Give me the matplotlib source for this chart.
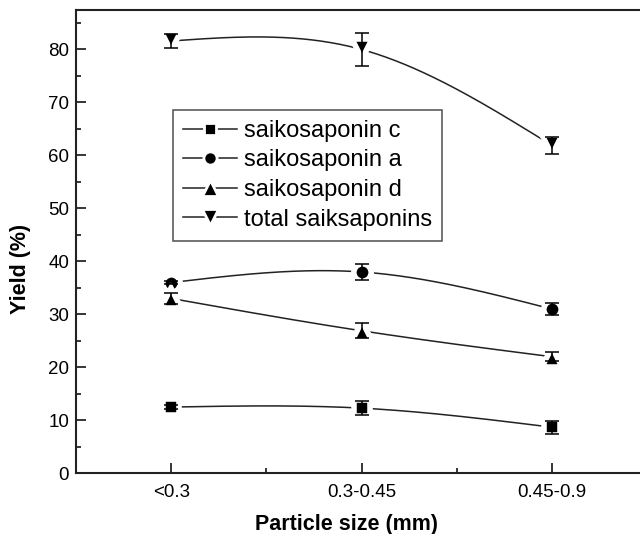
import numpy as np
import matplotlib
matplotlib.use("Agg")
import matplotlib.pyplot as plt

plt.rcParams["font.family"] = ["Liberation Sans", "DejaVu Sans"]

sizes = ["<0.3", "0.3-0.45", "0.45-0.9"]
labels = ["saikosaponin c", "saikosaponin a", "saikosaponin d", "total saiksaponins"]
markers = ["s", "o", "^", "v"]
msizes = [11.5, 12.5, 14, 14]

yield_c = [12.5, 12.3, 8.7]
yield_a = [36.0, 38.0, 31.0]
yield_d = [33.0, 26.9, 22.0]
yield_total = [81.6, 80.0, 61.9]

err_c = [0.3, 1.3, 1.2]
err_a = [0.3, 1.5, 1.2]
err_d = [1.0, 1.4, 0.8]
err_total = [1.4, 3.1, 1.6]


def natural_spline(x, y, n=200):
    # natural cubic spline through the points (Origin style "spline" line)
    x = np.asarray(x, float)
    y = np.asarray(y, float)
    k = len(x)
    h = np.diff(x)
    A = np.zeros((k, k))
    r = np.zeros(k)
    A[0, 0] = A[-1, -1] = 1
    for i in range(1, k - 1):
        A[i, i - 1] = h[i - 1]
        A[i, i] = 2 * (h[i - 1] + h[i])
        A[i, i + 1] = h[i]
        r[i] = 6 * ((y[i + 1] - y[i]) / h[i] - (y[i] - y[i - 1]) / h[i - 1])
    M = np.linalg.solve(A, r)
    xs = np.linspace(x[0], x[-1], n)
    idx = np.clip(np.searchsorted(x, xs) - 1, 0, k - 2)
    t = (xs - x[idx]) / h[idx]
    ys = (y[idx] * (1 - t) + y[idx + 1] * t
          + h[idx] ** 2 / 6 * (M[idx] * ((1 - t) ** 3 - (1 - t)) + M[idx + 1] * (t ** 3 - t)))
    return xs, ys


fig = plt.figure(figsize=(6.4, 5.34), dpi=100)
ax = fig.add_axes([76 / 640, 60.7 / 534, 571 / 640, 463.6 / 534])

x = np.arange(1, len(sizes) + 1)
series = [yield_c, yield_a, yield_d, yield_total]
errors = [err_c, err_a, err_d, err_total]

for vals, errs, lab, m, ms in zip(series, errors, labels, markers, msizes):
    xs, ys = natural_spline(x, vals)
    ax.plot(xs, ys, color="#222222", lw=1.1, zorder=1)
    ax.plot(x, vals, ls="none", marker=m, ms=ms, mfc="black", mec="white", mew=4, zorder=2)
    ax.errorbar(x, vals, yerr=errs, fmt="none", ecolor="black", elinewidth=1.1,
                capsize=5, capthick=1.1, zorder=3)
    ax.plot([], [], color="#222222", lw=1.1, marker=m, ms=ms - 3, mfc="black",
            mec="white", mew=2, label=lab)

ax.set_xlim(0.5, 3.5)
ax.set_ylim(0, 87.5)
ax.set_xticks(x)
ax.set_xticklabels(sizes)
ax.set_xticks([1.5, 2.5], minor=True)
ax.set_yticks(np.arange(0, 81, 10))
ax.set_yticks(np.arange(5, 86, 10), minor=True)
ax.tick_params(which="both", direction="in", width=1.1, labelsize=13.5)
ax.tick_params(which="major", length=7)
ax.tick_params(which="minor", length=3.5)
ax.tick_params(axis="x", pad=8)
ax.tick_params(axis="y", pad=5)
for s in ax.spines.values():
    s.set_linewidth(1.5)
    s.set_color("#222222")

ax.set_xlabel("Particle size (mm)", fontsize=15.5, fontweight="bold")
ax.set_ylabel("Yield (%)", fontsize=15.5, fontweight="bold")
ax.xaxis.set_label_coords(0.474, -0.088)
ax.yaxis.set_label_coords(-0.079, 0.44)

leg = ax.legend(loc="upper left", bbox_to_anchor=(97 / 571, (473.3 - 110) / 463.6),
                fontsize=17, frameon=True, fancybox=False, handlelength=2.3,
                handletextpad=0.3, borderpad=0.42, labelspacing=0.32, borderaxespad=0)
leg.get_frame().set_edgecolor("#222222")
leg.get_frame().set_linewidth(1.1)

fig.savefig("out.png", dpi=100)
